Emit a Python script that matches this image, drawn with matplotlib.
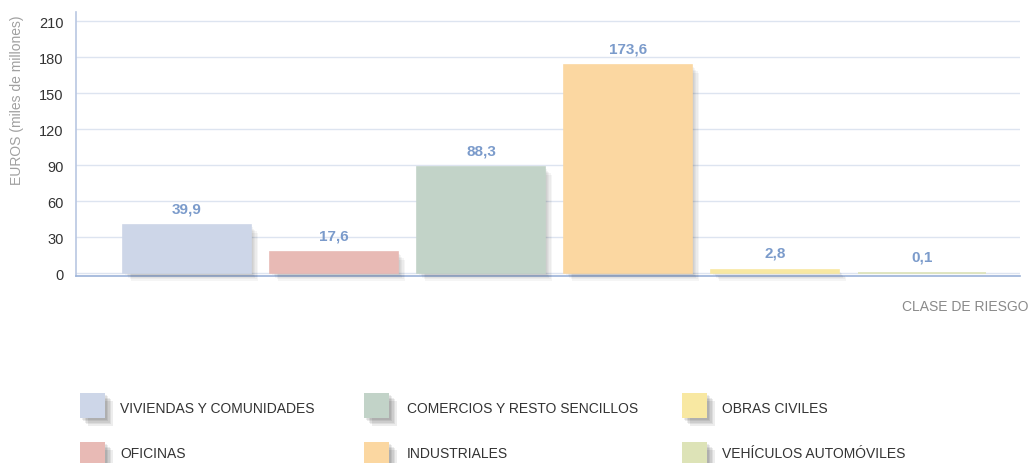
import matplotlib
matplotlib.use("Agg")
import matplotlib.pyplot as plt
import matplotlib.patheffects as pe
from matplotlib.patches import Rectangle

categories = ["VIVIENDAS Y COMUNIDADES", "OFICINAS", "COMERCIOS Y RESTO SENCILLOS",
              "INDUSTRIALES", "OBRAS CIVILES", "VEHÍCULOS AUTOMÓVILES"]
values = [39.9, 17.6, 88.3, 173.6, 2.8, 0.1]
value_labels = ["39,9", "17,6", "88,3", "173,6", "2,8", "0,1"]
colors = ["#cdd6e8", "#e8bab5", "#c2d3c8", "#fbd7a1", "#f8e8a2", "#dde3b7"]
yticks = [0, 30, 60, 90, 120, 150, 180, 210]

FONT = ["Liberation Sans", "DejaVu Sans"]
W, H = 1032, 464
fig = plt.figure(figsize=(W / 100, H / 100), dpi=100)
ax = fig.add_axes([76 / W, 1 - 277 / H, (1020 - 76) / W, (277 - 12.7) / H])

shadow = [pe.SimplePatchShadow(offset=(d, -d), shadow_rgbFace="#000000", alpha=0.04)
          for d in (1.5, 2.5, 3.5, 4.5, 5.5)] + [pe.Normal()]

x = list(range(len(values)))
bars = ax.bar(x, values, width=0.865, color=colors, edgecolor=colors, linewidth=1.2,
              zorder=3, clip_on=False)
for b in bars:
    b.set_path_effects(shadow)

for xi, v, lab in zip(x, values, value_labels):
    ax.annotate(lab, (xi, v), xytext=(0, 7), textcoords="offset points",
                ha="center", va="bottom", fontsize=11, fontweight="bold",
                color="#7b9bcb", family=FONT, zorder=5)

ax.set_xlim(-0.755, 5.667)
ax.set_ylim(-2.5, 218)
ax.set_yticks(yticks)
ax.set_yticklabels([str(t) for t in yticks], fontsize=10.5, color="#333333", family=FONT)
ax.tick_params(axis="y", length=0, pad=9)
ax.set_xticks([])
ax.grid(axis="y", color="#dde4f0", lw=1, zorder=0)
ax.set_axisbelow(True)
for s in ("top", "right"):
    ax.spines[s].set_visible(False)
ax.spines["left"].set_color("#b9c7e2")
ax.spines["bottom"].set_color("#9bb2d8")
ax.spines["left"].set_linewidth(1.2)
ax.spines["bottom"].set_linewidth(1.2)

fig.text(17 / W, 1 - 100 / H, "EUROS (miles de millones)", rotation=90, ha="center", va="center",
         fontsize=10, color="#a0a0a0", family=FONT)
fig.text(1028 / W, 1 - 307 / H, "CLASE DE RIESGO", ha="right", va="center",
         fontsize=10, color="#8a8a8a", family=FONT)

# legend (column-major, 3 columns x 2 rows)
patch_x = [80, 364, 682]
text_x = [120, 407, 722]
row_top = [394, 443]
row_text = [409, 454]
leg_shadow = [pe.SimplePatchShadow(offset=(d, -d), shadow_rgbFace="#000000", alpha=0.07)
              for d in (1.5, 2.5, 3.5, 4.5, 5.5)] + [pe.Normal()]
for i, (cat, col) in enumerate(zip(categories, colors)):
    c, r = i // 2, i % 2
    rect = Rectangle((patch_x[c] / W, 1 - (row_top[r] + 25) / H), 25 / W, 25 / H,
                     transform=fig.transFigure, facecolor=col, edgecolor="none")
    rect.set_path_effects(leg_shadow)
    fig.add_artist(rect)
    fig.text(text_x[c] / W, 1 - row_text[r] / H, cat, ha="left", va="center",
             fontsize=10, color="#333333", family=FONT)

fig.savefig("out.png", dpi=100)
